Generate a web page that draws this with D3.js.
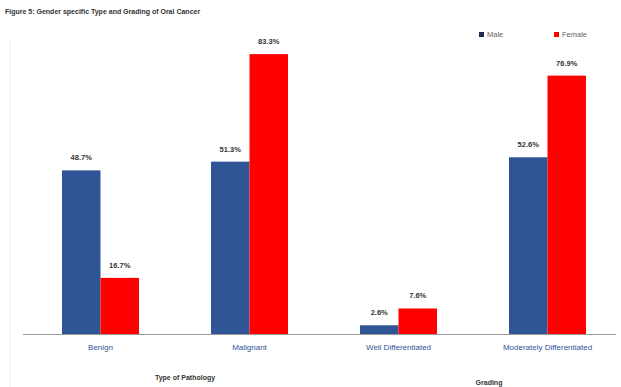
<!DOCTYPE html>
<html>
<head>
<meta charset="utf-8">
<script src="https://cdn.jsdelivr.net/npm/d3@7"></script>
<style>
  body { margin: 0; background: #fff; }
  text { font-family: "Liberation Sans", Arial, sans-serif; }
</style>
</head>
<body>
<div id="chart"></div>
<script>
// data
var categories = ["Benign", "Malignant", "Well Differentiated", "Moderately Differentiated"]
var series = ["Male", "Female"]
var male = [48.7, 51.3, 2.6, 52.6]
var female = [16.7, 83.3, 7.6, 76.9]
var colors = ["#2f5597", "#ff0000"]

var width = 621
var height = 387

var svg = d3.select("#chart")
  .append("svg")
    .attr("width", width)
    .attr("height", height)

// title
svg.append("text")
  .attr("x", 5)
  .attr("y", 14)
  .style("font-size", "7px")
  .style("font-weight", "bold")
  .attr("fill", "#333")
  .text("Figure 5: Gender specific Type and Grading of Oral Cancer")

// scales
var x = d3.scaleBand()
  .domain(categories)
  .range([26, 622])

var xSub = d3.scaleBand()
  .domain(series)
  .range([0, 77])

var y = d3.scaleLinear()
  .domain([0, 100])
  .range([334, -2])

var rows = categories.map(function(c, i) {
  return { cat: c, values: [male[i], female[i]] }
})

// bars
var groups = svg.append("g")
  .selectAll("g")
  .data(rows)
  .enter()
  .append("g")
    .attr("transform", function(d) { return "translate(" + (x(d.cat) + x.bandwidth() / 2 - 38.5) + ",0)" })

groups.selectAll("rect")
  .data(function(d) { return d.values.map(function(v, j) { return { s: series[j], v: v, j: j } }) })
  .enter()
  .append("rect")
    .attr("x", function(d) { return xSub(d.s) })
    .attr("width", xSub.bandwidth())
    .attr("y", function(d) { return y(d.v) })
    .attr("height", function(d) { return y(0) - y(d.v) })
    .attr("fill", function(d) { return colors[d.j] })

groups.selectAll("text")
  .data(function(d) { return d.values.map(function(v, j) { return { s: series[j], v: v } }) })
  .enter()
  .append("text")
    .attr("x", function(d) { return xSub(d.s) + xSub.bandwidth() / 2 })
    .attr("y", function(d) { return y(d.v) - 10 })
    .attr("text-anchor", "middle")
    .style("font-size", "7.5px")
    .style("font-weight", "bold")
    .attr("fill", "#333")
    .text(function(d) { return d.v.toFixed(1) + "%" })

// x axis
var xAxis = svg.append("g")
  .attr("transform", "translate(0," + y(0) + ")")
  .call(d3.axisBottom(x).tickSize(0).tickPadding(10))

xAxis.select(".domain")
  .attr("d", "M23,0.5H616")
  .attr("stroke", "#999")

xAxis.selectAll(".tick text")
  .style("font-size", "8px")
  .attr("fill", "#2f5597")
  .style("font-family", "'Liberation Sans', Arial, sans-serif")

// faint frame line on the left
svg.append("line")
  .attr("x1", 10).attr("x2", 10)
  .attr("y1", 40).attr("y2", 387)
  .attr("stroke", "#f0f0f0")

// axis titles
svg.append("text")
  .attr("x", 185)
  .attr("y", 380)
  .attr("text-anchor", "middle")
  .style("font-size", "7px")
  .style("font-weight", "bold")
  .attr("fill", "#333")
  .text("Type of Pathology")

svg.append("text")
  .attr("x", 489)
  .attr("y", 385)
  .attr("text-anchor", "middle")
  .style("font-size", "7px")
  .style("font-weight", "bold")
  .attr("fill", "#333")
  .text("Grading")

// legend
var legend = svg.append("g")
  .selectAll("g")
  .data(series)
  .enter()
  .append("g")
    .attr("transform", function(d, i) { return "translate(" + (479 + i * 75) + ",32)" })

legend.append("rect")
  .attr("width", 5)
  .attr("height", 5)
  .attr("fill", function(d, i) { return i == 0 ? "#1f2a5c" : colors[1] })

legend.append("text")
  .attr("x", 8)
  .attr("y", 5)
  .style("font-size", "7.5px")
  .attr("fill", "#666")
  .text(function(d) { return d })
</script>
</body>
</html>
